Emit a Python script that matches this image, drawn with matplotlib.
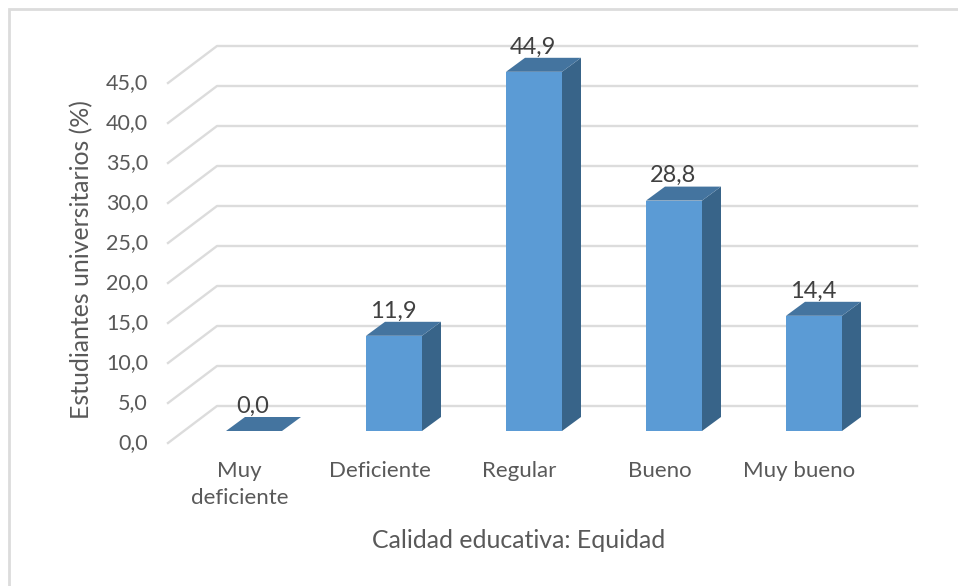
import numpy as np
import matplotlib
matplotlib.use("Agg")
import matplotlib.pyplot as plt
from matplotlib.patches import Polygon, Rectangle

categories = ["Muy\ndeficiente", "Deficiente", "Regular", "Bueno", "Muy bueno"]
values = [0.0, 11.9, 44.9, 28.8, 14.4]
yticks = [0, 5, 10, 15, 20, 25, 30, 35, 40, 45]
ylabel = "Estudiantes universitarios (%)"
xlabel = "Calidad educativa: Equidad"

W, H = 958, 586
plt.rcParams['font.family'] = ['Lato', 'DejaVu Sans']
TXT = '#595959'
GRID = '#dcdcdc'
FRONT = '#5b9bd5'
TOP = '#44749f'
SIDE = '#386489'

# px per category = 140, px per unit = 8
px_x = 140.0
px_y = 8.0
dep_x = 49 / px_x   # wall depth
dep_y = 37 / px_y
bar_dx = 19 / px_x  # bar depth
bar_dy = 14 / px_y
bar_w = 56 / px_x
bar_off = 16 / px_x
base = 12 / px_y

fig = plt.figure(figsize=(W / 100, H / 100), dpi=100)
x0, x1 = 168, 918
y0, y1 = 443, 46
ax = fig.add_axes([x0 / W, 1 - y0 / H, (x1 - x0) / W, (y0 - y1) / H])
ax.set_xlim(-0.5, -0.5 + (x1 - x0) / px_x)
ax.set_ylim(0, (y0 - y1) / px_y)
ax.axis('off')

# frame of the chart
fig.add_artist(Rectangle((9 / W, -0.01), (W - 9 + 20) / W, 1 - 9 / H + 0.01, transform=fig.transFigure,
                         fill=False, ec=GRID, lw=2))

# walls
xl = -0.5
xr = -0.5 + 5
for t in yticks:
    ax.plot([xl, xl + dep_x, xr + dep_x], [t, t + dep_y, t + dep_y], color=GRID, lw=1.7, clip_on=False, zorder=1)
    ax.text(xl - 20 / px_x, t + 0.05, ("%.1f" % t).replace('.', ','), ha='right', va='center', color=TXT, fontsize=15.5)

# bars
for i, v in enumerate(values):
    l = i + bar_off - bar_w / 2
    r = l + bar_w
    ax.bar(l, v, bottom=base, width=bar_w, align='edge', color=FRONT, zorder=3)
    ax.add_patch(Polygon([(r, base), (r + bar_dx, base + bar_dy), (r + bar_dx, base + v + bar_dy), (r, base + v)],
                         fc=SIDE, ec='none', zorder=3))
    ax.add_patch(Polygon([(l, base + v), (r, base + v), (r + bar_dx, base + v + bar_dy), (l + bar_dx, base + v + bar_dy)],
                         fc=TOP, ec='none', zorder=3))
    ax.text(i + bar_off - 1 / px_x, base + v + bar_dy + 0.05, ("%.1f" % v).replace('.', ','), ha='center', va='bottom',
            color='#404040', fontsize=17, zorder=4)

# category labels
for i, c in enumerate(categories):
    ax.text(i + 1.5 / px_x, -18 / px_y, c, ha='center', va='top', color=TXT, fontsize=16, linespacing=1.44, clip_on=False)

fig.text(82 / W, 1 - 260 / H, ylabel, rotation=90, ha='center', va='center', color=TXT, fontsize=17.9)
fig.text(519 / W, 1 - 541 / H, xlabel, ha='center', va='center', color=TXT, fontsize=17.9)

fig.savefig('out.png', dpi=100)
